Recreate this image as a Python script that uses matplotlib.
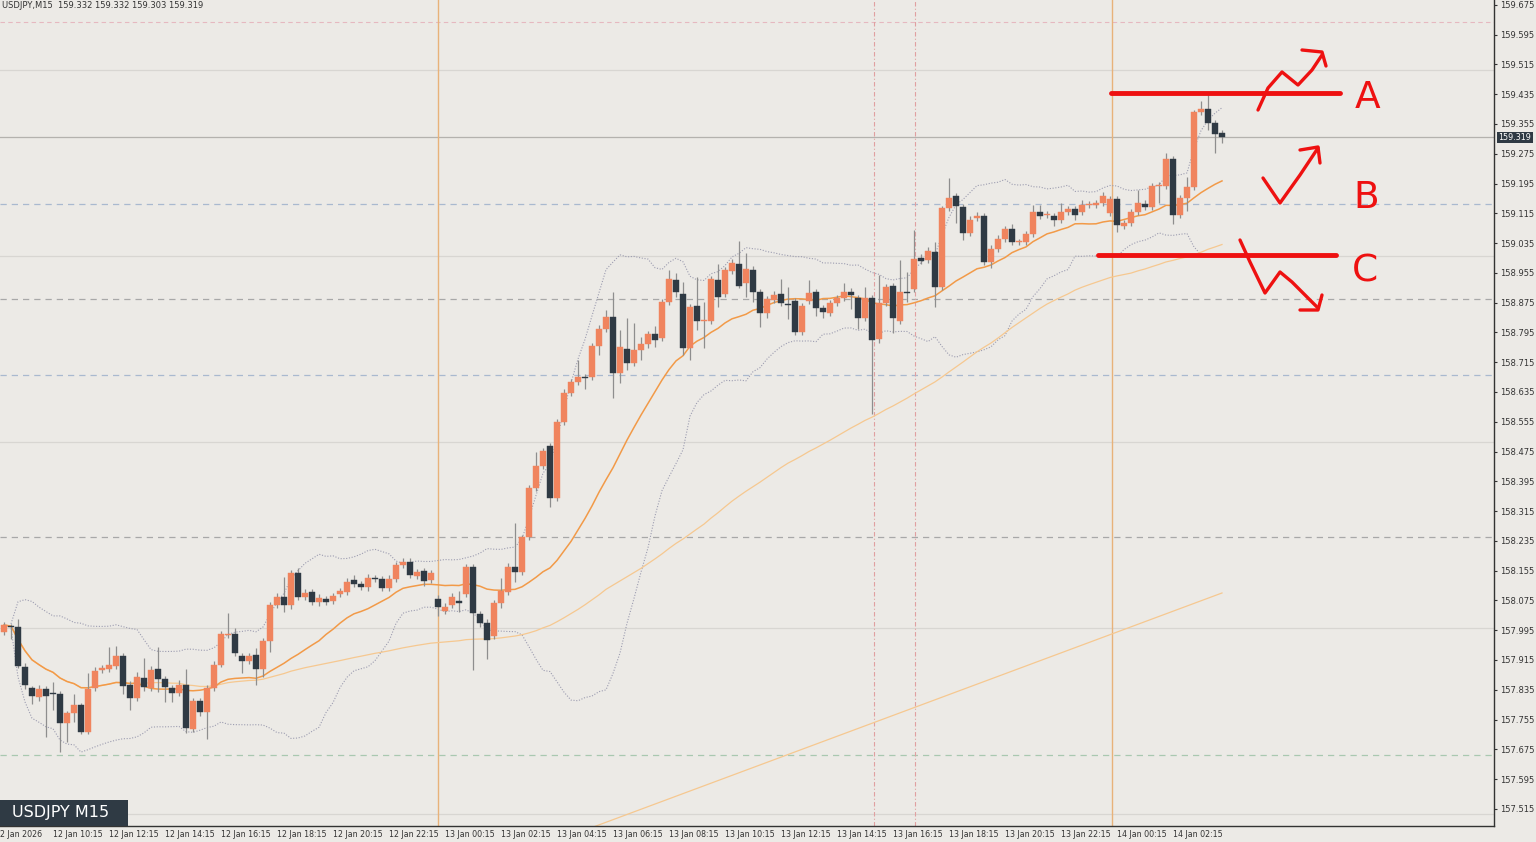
import numpy as np
import pandas as pd
import matplotlib
matplotlib.use("Agg")
import matplotlib.pyplot as plt
from matplotlib.patches import Rectangle

# USDJPY M15, 175 Kerzen (Open/Close)
opens = [
    157.990, 158.006, 158.003, 157.896, 157.839, 157.815, 157.837, 157.826, 157.823, 157.745,
    157.772, 157.794, 157.721, 157.839, 157.888, 157.890, 157.899, 157.925, 157.848, 157.813,
    157.866, 157.839, 157.890, 157.864, 157.839, 157.826, 157.848, 157.729, 157.804, 157.775,
    157.839, 157.901, 157.982, 157.985, 157.925, 157.912, 157.928, 157.890, 157.966, 158.062,
    158.084, 158.062, 158.148, 158.084, 158.097, 158.070, 158.079, 158.073, 158.092, 158.097,
    158.130, 158.119, 158.111, 158.135, 158.132, 158.108, 158.132, 158.170, 158.178, 158.140,
    158.154, 158.130, 158.079, 158.046, 158.062, 158.073, 158.092, 158.165, 158.038, 158.014,
    157.979, 158.068, 158.097, 158.165, 158.151, 158.245, 158.377, 158.436, 158.490, 158.350,
    158.554, 158.632, 158.662, 158.675, 158.675, 158.758, 158.804, 158.836, 158.686, 158.750,
    158.713, 158.748, 158.764, 158.791, 158.780, 158.877, 158.936, 158.898, 158.753, 158.866,
    158.825, 158.825, 158.936, 158.898, 158.960, 158.979, 158.928, 158.963, 158.903, 158.847,
    158.882, 158.898, 158.871, 158.879, 158.796, 158.879, 158.903, 158.860, 158.847, 158.874,
    158.887, 158.903, 158.887, 158.834, 158.887, 158.777, 158.874, 158.920, 158.825, 158.903,
    158.911, 158.995, 158.989, 159.011, 158.917, 159.129, 159.161, 159.132, 159.062, 159.102,
    159.108, 158.984, 159.019, 159.046, 159.073, 159.038, 159.038, 159.059, 159.118, 159.110,
    159.108, 159.097, 159.118, 159.126, 159.118, 159.137, 159.137, 159.143, 159.116, 159.153,
    159.081, 159.089, 159.118, 159.140, 159.132, 159.188, 159.188, 159.261, 159.110, 159.156,
    159.186, 159.387, 159.395, 159.357, 159.331,
]
closes = [
    158.009, 158.003, 157.899, 157.848, 157.818, 157.837, 157.818, 157.823, 157.745, 157.772,
    157.794, 157.721, 157.837, 157.885, 157.893, 157.901, 157.925, 157.845, 157.813, 157.869,
    157.842, 157.888, 157.864, 157.842, 157.826, 157.848, 157.732, 157.804, 157.775, 157.839,
    157.901, 157.985, 157.985, 157.933, 157.912, 157.925, 157.890, 157.966, 158.062, 158.084,
    158.062, 158.148, 158.084, 158.095, 158.070, 158.081, 158.070, 158.086, 158.100, 158.124,
    158.119, 158.111, 158.135, 158.132, 158.108, 158.132, 158.170, 158.178, 158.143, 158.151,
    158.127, 158.148, 158.057, 158.057, 158.084, 158.068, 158.165, 158.041, 158.014, 157.968,
    158.068, 158.100, 158.165, 158.151, 158.245, 158.377, 158.436, 158.476, 158.350, 158.554,
    158.632, 158.662, 158.675, 158.672, 158.758, 158.804, 158.836, 158.686, 158.756, 158.713,
    158.748, 158.764, 158.791, 158.774, 158.877, 158.938, 158.903, 158.753, 158.863, 158.825,
    158.828, 158.938, 158.890, 158.963, 158.981, 158.920, 158.965, 158.903, 158.847, 158.885,
    158.895, 158.874, 158.868, 158.796, 158.866, 158.901, 158.860, 158.850, 158.874, 158.887,
    158.903, 158.895, 158.834, 158.887, 158.774, 158.874, 158.917, 158.834, 158.903, 158.901,
    158.992, 158.987, 159.014, 158.917, 159.129, 159.156, 159.135, 159.062, 159.097, 159.108,
    158.984, 159.019, 159.046, 159.073, 159.038, 159.039, 159.059, 159.118, 159.108, 159.113,
    159.097, 159.118, 159.126, 159.110, 159.137, 159.140, 159.143, 159.161, 159.153, 159.083,
    159.089, 159.118, 159.143, 159.132, 159.188, 159.191, 159.261, 159.110, 159.156, 159.186,
    159.387, 159.395, 159.357, 159.328, 159.319,
]
# Dochtlängen in 0.001
wick_up = [
    8, 5, 21, 10, 5, 10, 8, 30, 10, 5, 30, 5, 43, 10, 8, 48, 27, 8, 10, 15,
    54, 11, 59, 8, 10, 12, 43, 8, 10, 10, 10, 8, 56, 16, 10, 8, 20, 8, 10, 12,
    54, 10, 13, 10, 8, 10, 8, 10, 8, 10, 13, 8, 10, 8, 8, 10, 8, 11, 11, 8,
    8, 10, 11, 10, 10, 27, 8, 8, 8, 10, 8, 35, 11, 118, 5, 8, 38, 8, 8, 8,
    10, 8, 46, 8, 8, 10, 19, 67, 46, 83, 73, 19, 8, 22, 8, 24, 19, 32, 8, 78,
    48, 8, 43, 8, 10, 62, 43, 10, 8, 8, 10, 40, 46, 8, 8, 35, 8, 8, 8, 8,
    24, 10, 8, 30, 8, 75, 8, 8, 86, 54, 78, 10, 10, 27, 5, 54, 8, 8, 10, 10,
    8, 10, 10, 8, 13, 8, 8, 19, 19, 8, 8, 24, 8, 8, 13, 8, 8, 10, 8, 8,
    8, 8, 35, 10, 8, 8, 16, 8, 8, 27, 5, 22, 46, 8, 8,
]
wick_dn = [
    8, 32, 5, 10, 20, 10, 110, 43, 78, 50, 24, 5, 5, 8, 8, 8, 8, 21, 32, 8,
    10, 8, 35, 40, 24, 8, 13, 8, 10, 73, 8, 5, 8, 8, 32, 8, 43, 21, 30, 8,
    19, 10, 8, 8, 8, 10, 8, 8, 8, 8, 8, 8, 10, 8, 8, 8, 8, 8, 8, 8,
    13, 8, 24, 8, 8, 24, 8, 153, 10, 51, 8, 13, 8, 27, 8, 8, 8, 8, 24, 8,
    8, 8, 8, 30, 8, 24, 8, 67, 27, 19, 8, 27, 11, 19, 8, 8, 13, 19, 32, 24,
    73, 8, 27, 8, 8, 5, 38, 27, 38, 13, 8, 8, 38, 8, 8, 8, 22, 16, 8, 8,
    8, 38, 30, 8, 199, 11, 8, 40, 8, 24, 8, 8, 8, 54, 8, 8, 46, 19, 8, 8,
    8, 16, 8, 8, 8, 8, 8, 8, 8, 8, 16, 8, 8, 13, 8, 8, 8, 8, 8, 19,
    8, 8, 8, 8, 8, 46, 8, 24, 8, 35, 8, 8, 19, 51, 16,
]
# MA200 (Stützpunkte)
ma200_idx = [80, 100, 120, 140, 160, 175]
ma200_val = [157.430, 157.570, 157.710, 157.850, 157.990, 158.095]

x_labels = ["12 Jan 2026", "12 Jan 10:15", "12 Jan 12:15", "12 Jan 14:15", "12 Jan 16:15",
            "12 Jan 18:15", "12 Jan 20:15", "12 Jan 22:15", "13 Jan 00:15", "13 Jan 02:15",
            "13 Jan 04:15", "13 Jan 06:15", "13 Jan 08:15", "13 Jan 10:15", "13 Jan 12:15",
            "13 Jan 14:15", "13 Jan 16:15", "13 Jan 18:15", "13 Jan 20:15", "13 Jan 22:15",
            "14 Jan 00:15", "14 Jan 02:15"]
x_label_idx = [-0.3] + [8 + 8 * k for k in range(21)]

BG = "#ECEAE6"
BULL = "#F0845E"
BEAR = "#2F3A44"
W, H = 1536, 842

fig = plt.figure(figsize=(W / 100, H / 100), dpi=100, facecolor=BG)
ax = fig.add_axes([0, 16 / H, 1494 / W, 826 / H], facecolor=BG)

o = np.array(opens)
c = np.array(closes)
hi = np.maximum(o, c) + np.array(wick_up) / 1000
lo = np.minimum(o, c) - np.array(wick_dn) / 1000
idx = np.arange(1, len(c) + 1)

# Indikatoren
s = pd.Series(c)
ma20 = s.rolling(20, min_periods=1).mean()
sd20 = s.rolling(20, min_periods=2).std(ddof=0)
ma_slow = s.rolling(75, min_periods=1).mean()

# Hilfslinien
ax.axhline(159.630, color="#E6B8C0", lw=0.8, ls=(0, (4, 3)))
ax.axhline(159.140, color="#A9B9CF", lw=0.9, ls=(0, (5, 4)))
ax.axhline(158.886, color="#A8A8A8", lw=0.9, ls=(0, (5, 4)))
ax.axhline(158.680, color="#A9B9CF", lw=0.9, ls=(0, (5, 4)))
ax.axhline(158.245, color="#A8A8A8", lw=0.9, ls=(0, (5, 4)))
ax.axhline(157.660, color="#A9C8B0", lw=0.9, ls=(0, (5, 4)))
for p in [159.500, 159.000, 158.500, 158.000, 157.500]:
    ax.axhline(p, color="#D8D6D2", lw=0.9)
ax.axhline(closes[-1], color="#B4B2AE", lw=0.9)
for xi in [63, 159.3]:
    ax.axvline(xi, color="#E8B27A", lw=1.0)
for xi in [125.3, 131.1]:
    ax.axvline(xi, color="#E0A0A0", lw=0.8, ls=(0, (4, 2, 1, 2)))

ax.plot(idx, ma20 + 2 * sd20, color="#9C9CB0", lw=0.8, ls=(0, (1, 1.5)))
ax.plot(idx, ma20 - 2 * sd20, color="#9C9CB0", lw=0.8, ls=(0, (1, 1.5)))
ax.plot(idx, ma_slow, color="#F6C890", lw=0.9)
ax.plot(ma200_idx, ma200_val, color="#F6C890", lw=0.9)
ax.plot(idx, ma20, color="#F29A48", lw=1.1)

for i in range(len(c)):
    col = BULL if c[i] >= o[i] else BEAR
    ax.vlines(idx[i], lo[i], hi[i], color="#8E8E8E", lw=0.9, zorder=3)
    b0 = min(o[i], c[i])
    bh = max(abs(c[i] - o[i]), 0.003)
    ax.add_patch(Rectangle((idx[i] - 0.38, b0), 0.76, bh, facecolor=col,
                           edgecolor=col, lw=0.3, zorder=4))

ax.set_xlim(3 / 7, 1497 / 7)
ax.set_ylim(157.469, 159.688)
for sp in ax.spines.values():
    sp.set_visible(False)
ax.plot([1, 1], [0, 1], transform=ax.transAxes, color="#333333", lw=1, clip_on=False)
ax.plot([0, 1], [0, 0], transform=ax.transAxes, color="#333333", lw=1, clip_on=False)
ax.set_xticks([])
ax.yaxis.tick_right()
yt = np.round(np.arange(157.515, 159.70, 0.08), 3)
ax.set_yticks(yt)
ax.set_yticklabels([f"{v:.3f}" for v in yt], fontsize=6.0, color="#333333")
ax.tick_params(axis="y", length=2.5, pad=2, color="#333333")

for xi, lab in zip(x_label_idx, x_labels):
    ax.text(xi, -0.005, lab, transform=ax.get_xaxis_transform(), fontsize=5.7,
            color="#333333", ha="left", va="top", clip_on=False)

ax.text(1.003, closes[-1], f"{closes[-1]:.3f}", transform=ax.get_yaxis_transform(),
        fontsize=5.8, color="white", va="center", ha="left",
        bbox=dict(boxstyle="square,pad=0.15", fc="#2F3A44", ec="none"))

fig.text(0.001, 0.999, "USDJPY,M15  159.332 159.332 159.303 159.319", fontsize=6,
         color="#333333", ha="left", va="top")
fig.patches.append(Rectangle((0, 1 - 826 / H), 128 / W, 26 / H, transform=fig.transFigure,
                             facecolor="#2F3A44", edgecolor="none"))
fig.text(12 / W, 1 - 813 / H, "USDJPY M15", fontsize=11.5, color="white", va="center")

# Rote Markierungen (Pixelkoordinaten)
def red(xs, ys, lw=3.0):
    fig.add_artist(plt.Line2D([x / W for x in xs], [1 - y / H for y in ys],
                              color="#EE1111", lw=lw, solid_capstyle="round",
                              solid_joinstyle="round"))

red([1111, 1340], [93, 93], 3.5)
red([1098, 1336], [255, 255], 3.5)
red([1258, 1268, 1282, 1298, 1312, 1322], [110, 88, 72, 85, 70, 55], 2.4)
red([1302, 1322, 1326], [50, 52, 66], 2.4)
red([1263, 1280, 1300, 1318], [178, 203, 175, 148], 2.4)
red([1300, 1318, 1320], [150, 147, 163], 2.4)
red([1240, 1250, 1265, 1280, 1292, 1318], [240, 262, 293, 272, 282, 308], 2.4)
red([1300, 1318, 1322], [310, 310, 295], 2.4)
fig.text(1368 / W, 1 - 98 / H, "A", fontsize=27, color="#EE1111", ha="center", va="center")
fig.text(1366 / W, 1 - 198 / H, "B", fontsize=27, color="#EE1111", ha="center", va="center")
fig.text(1365 / W, 1 - 272 / H, "C", fontsize=27, color="#EE1111", ha="center", va="center")

fig.savefig("out.png", dpi=100, facecolor=BG)
